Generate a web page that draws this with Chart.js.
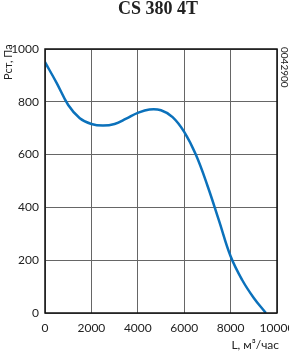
<!DOCTYPE html>
<html>
<head>
<meta charset="utf-8">
<script src="https://cdn.jsdelivr.net/npm/chart.js@4"></script>
<style>
  html, body { margin: 0; padding: 0; background: #fff; }
  #wrap { width: 289px; height: 352px; position: relative; }
</style>
</head>
<body>
<div id="wrap"><canvas id="myChart" width="289" height="352"></canvas></div>
<script>
// airflow, m3/h
var flowL = [0, 500, 1000, 1500, 2000, 2500, 3000, 3500, 4000, 4500, 5000, 5500, 6000, 6500, 7000, 7500, 8000, 8500, 9000, 9520];
// static pressure, Pa
var pressure = [950, 872, 788, 738, 716, 710, 716, 736, 758, 771, 768, 742, 686, 600, 483, 350, 215, 125, 57, 0];
var xTicks = [0, 2000, 4000, 6000, 8000, 10000];
var yTicks = [0, 200, 400, 600, 800, 1000];

var points = flowL.map(function(l, i) { return { x: l, y: pressure[i] }; });

var labelsPlugin = {
  id: 'labels',
  afterDraw: function(chart) {
    var ctx = chart.ctx;
    ctx.save();
    ctx.fillStyle = '#222';
    // title
    ctx.font = 'bold 18px "Liberation Serif"';
    ctx.textAlign = 'center';
    ctx.textBaseline = 'alphabetic';
    ctx.fillText('CS 380 4T', 158, 14);
    // y axis label
    ctx.save();
    ctx.translate(12, 80);
    ctx.rotate(-Math.PI / 2);
    ctx.textAlign = 'left';
    ctx.font = '11px Lato';
    ctx.fillText('Pст, Па', 0, 0);
    ctx.restore();
    // code at right
    ctx.save();
    ctx.translate(281, 47);
    ctx.rotate(Math.PI / 2);
    ctx.textAlign = 'left';
    ctx.font = '10px Lato';
    ctx.fillText('0042900', 0, 0);
    ctx.restore();
    // x axis label
    ctx.textAlign = 'right';
    ctx.font = '12px Lato';
    ctx.fillText('L, м³/час', 279, 349);
    // frame
    var a = chart.chartArea;
    ctx.strokeStyle = '#111';
    ctx.lineWidth = 1.5;
    ctx.strokeRect(a.left, a.top, a.right - a.left, a.bottom - a.top);
    ctx.restore();
  }
};

var ctx = document.getElementById('myChart');
var myChart = new Chart(ctx, {
  type: 'line',
  data: {
    datasets: [{
      data: points,
      borderColor: '#0b71bb',
      borderWidth: 2.5,
      pointRadius: 0,
      fill: false,
      tension: 0.4
    }]
  },
  options: {
    responsive: false,
    animation: false,
    layout: { padding: { top: 49, right: 12, left: 0, bottom: 0 } },
    plugins: { legend: { display: false }, tooltip: { enabled: false } },
    scales: {
      x: {
        type: 'linear',
        min: 0, max: 10000,
        afterBuildTicks: function(s) { s.ticks = xTicks.map(function(v) { return { value: v }; }); },
        afterFit: function(s) { s.height = 39; s.paddingLeft = 0; s.paddingRight = 0; },
        grid: { color: '#666', lineWidth: 1, drawTicks: false },
        border: { display: false },
        ticks: {
          color: '#222', font: { family: 'Lato', size: 12 }, padding: 8, maxRotation: 0, autoSkip: false,
          callback: function(v) { return String(v); }
        }
      },
      y: {
        min: 0, max: 1000,
        afterBuildTicks: function(s) { s.ticks = yTicks.map(function(v) { return { value: v }; }); },
        afterFit: function(s) { s.width = 45; s.paddingTop = 0; s.paddingBottom = 0; },
        grid: { color: '#666', lineWidth: 1, drawTicks: false },
        border: { display: false },
        ticks: {
          color: '#222', font: { family: 'Lato', size: 12 }, padding: 6,
          callback: function(v) { return String(v); }
        }
      }
    }
  },
  plugins: [labelsPlugin]
});
</script>
</body>
</html>
